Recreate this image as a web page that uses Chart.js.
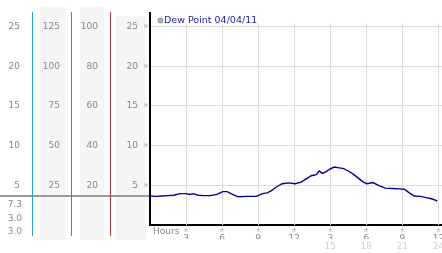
<!DOCTYPE html>
<html>
<head>
<meta charset="utf-8">
<script src="https://cdn.jsdelivr.net/npm/chart.js@4.4.0/dist/chart.umd.min.js"></script>
<style>
  html, body { margin: 0; padding: 0; background: #fff; }
  canvas { display: block; }
</style>
</head>
<body>
<canvas id="chart" width="442" height="253"></canvas>
<script>
// Data
const seriesLabel = 'Dew Point 04/04/11';
const hours = [0, 0.5, 1, 1.5, 2, 2.5, 3, 3.33, 3.6, 4, 4.5, 5, 5.58, 6.05, 6.42, 6.83, 7.33, 8.08, 8.83,
    9.38, 9.75, 10.08, 10.58, 11, 11.5, 12.08, 12.58, 13, 13.42, 13.83, 14.08, 14.33, 14.63, 14.92,
    15.33, 15.75, 16.13, 16.5, 16.92, 17.33, 17.75, 18.05, 18.55, 19.06, 19.58, 20.17, 20.75, 21.17,
    21.58, 22, 22.5, 23, 23.42, 23.8, 23.9];
const dewPoint = [3.65, 3.6, 3.65, 3.7, 3.75, 3.95, 3.95, 3.85, 3.95, 3.75, 3.7, 3.7, 3.85, 4.2, 4.2, 3.9, 3.55, 3.6, 3.6,
    3.95, 4.05, 4.3, 4.85, 5.2, 5.3, 5.2, 5.4, 5.8, 6.2, 6.35, 6.8, 6.5, 6.7, 7.0,
    7.3, 7.2, 7.1, 6.8, 6.4, 5.9, 5.4, 5.2, 5.35, 4.95, 4.65, 4.6, 4.55, 4.5,
    4.05, 3.65, 3.6, 3.45, 3.3, 3.1, 3.0];

const xTickHours = [3, 6, 9, 12, 15, 18, 21, 24];
const xTickLabels = ['3', '6', '9', '12', '3', '6', '9', '12'];
const xTickLabels2 = ['', '', '', '', '15', '18', '21', '24'];
const yTicks = [5, 10, 15, 20, 25];
const yTicksHumidity = [25, 50, 75, 100, 125];
const yTicksPercent = [20, 40, 60, 80, 100];
const statLabels = ['7.3', '3.0', '3.0'];
const markerValue = 3.6;
const yMax = 26.7;
const xMax = 24.3;

const FONT = { family: 'DejaVu Sans', size: 9 };
const LABEL = '#888';

// one of the scale columns on the left
const sideAxis = (weight, width, ticks, factor, padding) => ({
    type: 'linear',
    position: 'left',
    weight: weight,
    min: 0,
    max: yMax * factor,
    afterBuildTicks: s => { s.ticks = ticks.map(v => ({ value: v })); },
    afterFit: s => { s.width = width; s.paddingTop = 0; s.paddingBottom = 0; },
    grid: { display: false, drawTicks: false },
    border: { display: false },
    ticks: { color: LABEL, font: FONT, padding: padding, autoSkip: false }
});

const decorations = {
    id: 'decorations',
    beforeDraw(chart) {
        const ctx = chart.ctx;
        const s = chart.scales;
        ctx.save();
        // column backgrounds
        ctx.fillStyle = '#f5f5f5';
        ctx.fillRect(s.yHum.left + 7, 7, s.yHum.width - 13, 233);
        ctx.fillRect(s.yPct.left + 8, 7, s.yPct.width - 15, 233);
        ctx.fillRect(s.y.left + 4, 16, s.y.width - 8, 224);
        // marker line across the columns
        const my = Math.round(s.y.getPixelForValue(markerValue));
        ctx.fillStyle = '#9a9a9a';
        ctx.fillRect(0, my - 1, chart.chartArea.left - 1, 2);
        // coloured separators
        const seps = [[s.yTemp.right, '#2fa3c8'], [s.yHum.right, '#35a535'], [s.yPct.right, '#b33a3a']];
        seps.forEach(([x, c]) => {
            ctx.fillStyle = c;
            ctx.fillRect(Math.round(x) - 1, 12, 1, 224);
        });
        ctx.restore();
    },
    beforeDatasetsDraw(chart) {
        const ctx = chart.ctx;
        const { x, y } = chart.scales;
        const top = y.getPixelForValue(25) - 3;
        ctx.save();
        ctx.strokeStyle = '#dcdcdc';
        ctx.lineWidth = 1;
        xTickHours.forEach(h => {
            const px = Math.round(x.getPixelForValue(h)) + 0.5;
            ctx.beginPath();
            ctx.moveTo(px, top);
            ctx.lineTo(px, chart.chartArea.bottom);
            ctx.stroke();
        });
        ctx.restore();
    },
    afterDraw(chart) {
        const ctx = chart.ctx;
        const { x, y } = chart.scales;
        const area = chart.chartArea;
        ctx.save();
        // legend
        ctx.beginPath();
        ctx.arc(160.5, 20.5, 2.5, 0, Math.PI * 2);
        ctx.fillStyle = '#b0b0b0';
        ctx.fill();
        ctx.strokeStyle = '#888';
        ctx.lineWidth = 1;
        ctx.stroke();
        ctx.fillStyle = '#2424a8';
        ctx.font = '9.5px "DejaVu Sans"';
        ctx.textAlign = 'left';
        ctx.textBaseline = 'middle';
        ctx.fillText(chart.data.datasets[0].label, 164, 21);
        // axis caption
        ctx.fillStyle = LABEL;
        ctx.font = '9px "DejaVu Sans"';
        ctx.fillText('Hours', area.left + 3, 232);
        // small marks by the ticks
        ctx.fillStyle = '#aaa';
        ctx.font = '6px "DejaVu Sans"';
        ctx.textAlign = 'center';
        yTicks.forEach(v => ctx.fillText('※', area.left - 4, y.getPixelForValue(v)));
        xTickHours.forEach(h => ctx.fillText('※', x.getPixelForValue(h), 230));
        // stats under the first column
        ctx.fillStyle = LABEL;
        ctx.font = '9px "DejaVu Sans"';
        ctx.textAlign = 'right';
        statLabels.forEach((t, i) => ctx.fillText(t, 22, 205 + i * 13.5));
        ctx.restore();
    }
};

new Chart(document.getElementById('chart'), {
    type: 'line',
    data: {
        datasets: [{
            label: seriesLabel,
            data: hours.map((h, i) => ({ x: h, y: dewPoint[i] })),
            borderColor: '#000099',
            borderWidth: 1.4,
            pointRadius: 0,
            fill: false,
            tension: 0,
            xAxisID: 'x',
            yAxisID: 'y'
        }]
    },
    options: {
        responsive: false,
        animation: false,
        layout: { padding: { top: 13, left: 0, right: 0, bottom: 0 } },
        plugins: { legend: { display: false }, tooltip: { enabled: false } },
        scales: {
            x: {
                type: 'linear',
                position: 'bottom',
                weight: 0,
                min: 0,
                max: xMax,
                afterBuildTicks: s => { s.ticks = xTickHours.map(v => ({ value: v })); },
                afterFit: s => { s.height = 14; s.paddingLeft = 0; s.paddingRight = 0; },
                grid: { display: false, drawTicks: false },
                border: { display: true, color: '#000', width: 2 },
                ticks: {
                    color: LABEL, font: FONT, padding: 8, maxRotation: 0, autoSkip: false,
                    callback: (v, i) => xTickLabels[i]
                }
            },
            x2: {
                type: 'linear',
                position: 'bottom',
                weight: 1,
                min: 0,
                max: xMax,
                afterBuildTicks: s => { s.ticks = xTickHours.map(v => ({ value: v })); },
                afterFit: s => { s.height = 14; s.paddingLeft = 0; s.paddingRight = 0; },
                grid: { display: false, drawTicks: false },
                border: { display: false },
                ticks: {
                    color: '#d0d0d0', font: FONT, padding: 2, maxRotation: 0, autoSkip: false,
                    callback: (v, i) => xTickLabels2[i]
                }
            },
            y: {
                type: 'linear',
                position: 'left',
                weight: 1,
                min: 0,
                max: yMax,
                afterBuildTicks: s => { s.ticks = yTicks.map(v => ({ value: v })); },
                afterFit: s => { s.width = 39; s.paddingTop = 0; s.paddingBottom = 0; },
                grid: { color: '#dcdcdc', drawTicks: false },
                border: { display: true, color: '#000', width: 2 },
                ticks: { color: LABEL, font: FONT, padding: 12, autoSkip: false }
            },
            yPct: sideAxis(2, 39, yTicksPercent, 4, 13),
            yHum: sideAxis(3, 39, yTicksHumidity, 5, 12),
            yTemp: sideAxis(4, 33, yTicks, 1, 13)
        }
    },
    plugins: [decorations]
});
</script>
</body>
</html>
